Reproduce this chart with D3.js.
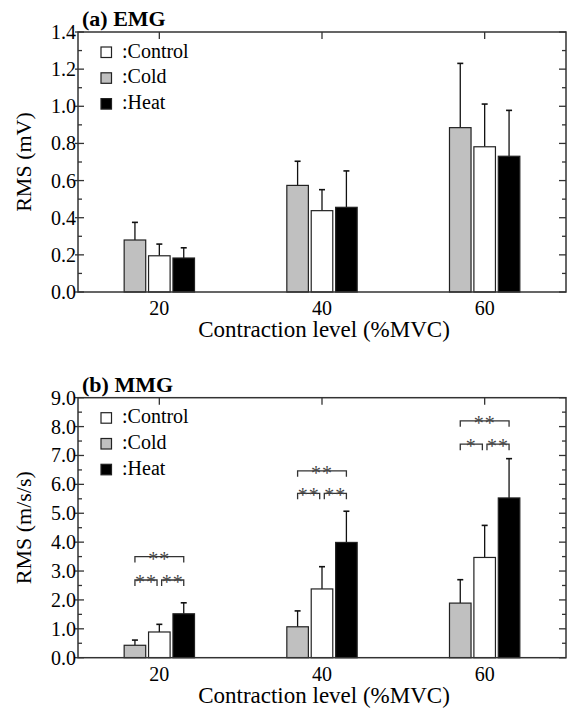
<!DOCTYPE html>
<html>
<head>
<meta charset="utf-8">
<script src="https://cdn.jsdelivr.net/npm/d3@7"></script>
<style>
  body { margin: 0; background: #fff; }
</style>
</head>
<body>
<svg id="chart" width="573" height="708" font-family="'Liberation Serif', 'DejaVu Serif', serif"></svg>
<script>
// contraction levels (%MVC) and conditions
const levels = [20, 40, 60];
const conditions = ["Cold", "Control", "Heat"];
const legendOrder = ["Control", "Cold", "Heat"];

// EMG RMS (mV), mean and upper SD
const emgCold = [0.28, 0.574, 0.885];
const emgControl = [0.195, 0.438, 0.782];
const emgHeat = [0.183, 0.456, 0.731];
const emgColdSd = [0.095, 0.13, 0.346];
const emgControlSd = [0.063, 0.113, 0.23];
const emgHeatSd = [0.055, 0.196, 0.247];

// MMG RMS (m/s/s), mean and upper SD
const mmgCold = [0.43, 1.07, 1.89];
const mmgControl = [0.89, 2.38, 3.47];
const mmgHeat = [1.52, 3.99, 5.53];
const mmgColdSd = [0.18, 0.55, 0.81];
const mmgControlSd = [0.265, 0.77, 1.11];
const mmgHeatSd = [0.38, 1.08, 1.36];

// significance brackets for MMG: [level, from, to, y, label]
const mmgSig = [
    [20, "Cold", "Control", 2.69, "**"],
    [20, "Control", "Heat", 2.69, "**"],
    [20, "Cold", "Heat", 3.5, "**"],
    [40, "Cold", "Control", 5.69, "**"],
    [40, "Control", "Heat", 5.69, "**"],
    [40, "Cold", "Heat", 6.47, "**"],
    [60, "Cold", "Control", 7.39, "*"],
    [60, "Control", "Heat", 7.39, "**"],
    [60, "Cold", "Heat", 8.2, "**"]
];

const emgTicks = [0, 0.2, 0.4, 0.6, 0.8, 1.0, 1.2, 1.4];
const mmgTicks = [0, 1, 2, 3, 4, 5, 6, 7, 8, 9];

const fills = { Cold: "#c0c0c0", Control: "#ffffff", Heat: "#000000" };
const offsets = { Cold: -3, Control: 0, Heat: 3 };
const barW = 2.65;

const svg = d3.select("#chart");
const left = 78, right = 566;

function drawPanel(opts) {
    const g = svg.append("g");
    const x = d3.scaleLinear().domain([10, 70]).range([left, right]);
    const y = d3.scaleLinear().domain([0, opts.yMax]).range([opts.bottom, opts.top]);

    const rows = [];
    conditions.forEach(c => {
        levels.forEach((lv, i) => {
            rows.push({ cond: c, level: lv, mean: opts.means[c][i], sd: opts.sds[c][i] });
        });
    });

    // error bars (upper only)
    const err = g.selectAll(".err").data(rows).enter().append("g");
    err.append("line")
        .attr("x1", d => x(d.level + offsets[d.cond]))
        .attr("x2", d => x(d.level + offsets[d.cond]))
        .attr("y1", d => y(d.mean))
        .attr("y2", d => y(d.mean + d.sd))
        .style("stroke", "#111").style("stroke-width", 1.3);
    err.append("line")
        .attr("x1", d => x(d.level + offsets[d.cond]) - 3)
        .attr("x2", d => x(d.level + offsets[d.cond]) + 3)
        .attr("y1", d => y(d.mean + d.sd))
        .attr("y2", d => y(d.mean + d.sd))
        .style("stroke", "#111").style("stroke-width", 1.6);

    // bars
    g.selectAll(".bar").data(rows).enter().append("rect")
        .attr("x", d => x(d.level + offsets[d.cond] - barW / 2))
        .attr("width", d => x(barW) - x(0))
        .attr("y", d => y(d.mean))
        .attr("height", d => y(0) - y(d.mean))
        .style("fill", d => fills[d.cond])
        .style("stroke", "#222")
        .style("stroke-width", 1.2);

    // frame and ticks
    const minor = d3.range(0, opts.yMax + 1e-9, opts.minorStep);
    g.append("rect")
        .attr("x", left).attr("y", opts.top)
        .attr("width", right - left).attr("height", opts.bottom - opts.top)
        .style("fill", "none").style("stroke", "#333").style("stroke-width", 1.5);

    const isMajor = v => opts.ticks.some(t => Math.abs(t - v) < 1e-9);
    g.selectAll(".ytl").data(minor).enter().append("line")
        .attr("x1", d => isMajor(d) ? left - 3 : left)
        .attr("x2", d => isMajor(d) ? left + 6 : left + 4)
        .attr("y1", d => y(d)).attr("y2", d => y(d))
        .style("stroke", "#333").style("stroke-width", 1.3);
    g.selectAll(".ytr").data(minor).enter().append("line")
        .attr("x1", d => isMajor(d) ? right - 7 : right - 4)
        .attr("x2", right)
        .attr("y1", d => y(d)).attr("y2", d => y(d))
        .style("stroke", "#333").style("stroke-width", 1.3);
    g.selectAll(".xt").data(levels).enter().append("line")
        .attr("x1", d => x(d)).attr("x2", d => x(d))
        .attr("y1", opts.top).attr("y2", opts.top + 7)
        .style("stroke", "#333").style("stroke-width", 1.3);

    g.selectAll(".ylab").data(opts.ticks).enter().append("text")
        .attr("x", left - 2).attr("y", d => y(d) + 7)
        .attr("text-anchor", "end")
        .style("font-size", "20px")
        .text(d => d.toFixed(1));
    g.selectAll(".xlab").data(levels).enter().append("text")
        .attr("x", d => x(d)).attr("y", opts.bottom + 23)
        .attr("text-anchor", "middle")
        .style("font-size", "20px")
        .text(d => d);

    g.append("text")
        .attr("x", (left + right) / 2 + 2).attr("y", opts.bottom + 45)
        .attr("text-anchor", "middle")
        .style("font-size", "23px")
        .text("Contraction level (%MVC)");
    g.append("text")
        .attr("transform", `translate(31,${(opts.top + opts.bottom) / 2}) rotate(-90)`)
        .attr("text-anchor", "middle")
        .style("font-size", "22px")
        .text(opts.yLabel);
    g.append("text")
        .attr("x", 82).attr("y", opts.top - 6)
        .style("font-size", "22px").style("font-weight", "bold")
        .text(opts.title);

    // legend
    const lg = g.selectAll(".leg").data(legendOrder).enter().append("g")
        .attr("transform", (d, i) => `translate(101,${opts.top + 15 + i * 25.8})`);
    lg.append("rect")
        .attr("width", 10.5).attr("height", 10.5)
        .style("fill", d => fills[d]).style("stroke", "#222").style("stroke-width", 1.2);
    lg.append("text")
        .attr("x", 21).attr("y", 10.5)
        .style("font-size", "20px")
        .text(d => ":" + d);

    // significance brackets
    if (opts.sig) {
        const sg = g.selectAll(".sig").data(opts.sig).enter().append("g");
        const bx1 = d => x(d[0] + offsets[d[1]]) + (d[1] === "Control" ? 2.3 : 0);
        const bx2 = d => x(d[0] + offsets[d[2]]) - (d[2] === "Control" ? 2.3 : 0);
        sg.append("path")
            .attr("d", d => `M${bx1(d)},${y(d[3]) + 6}V${y(d[3])}H${bx2(d)}V${y(d[3]) + 6}`)
            .style("fill", "none").style("stroke", "#333").style("stroke-width", 1.3);
        sg.append("text")
            .attr("x", d => (bx1(d) + bx2(d)) / 2)
            .attr("y", d => y(d[3]) + 9)
            .attr("text-anchor", "middle")
            .style("font-size", "20px").style("fill", "#444")
            .style("letter-spacing", "1px")
            .text(d => d[4]);
    }
}

drawPanel({
    top: 32, bottom: 292, yMax: 1.4, ticks: emgTicks, minorStep: 0.1,
    title: "(a) EMG", yLabel: "RMS (mV)",
    means: { Cold: emgCold, Control: emgControl, Heat: emgHeat },
    sds: { Cold: emgColdSd, Control: emgControlSd, Heat: emgHeatSd }
});

drawPanel({
    top: 397.7, bottom: 657.7, yMax: 9, ticks: mmgTicks, minorStep: 0.5,
    title: "(b) MMG", yLabel: "RMS (m/s/s)",
    means: { Cold: mmgCold, Control: mmgControl, Heat: mmgHeat },
    sds: { Cold: mmgColdSd, Control: mmgControlSd, Heat: mmgHeatSd },
    sig: mmgSig
});
</script>
</body>
</html>
